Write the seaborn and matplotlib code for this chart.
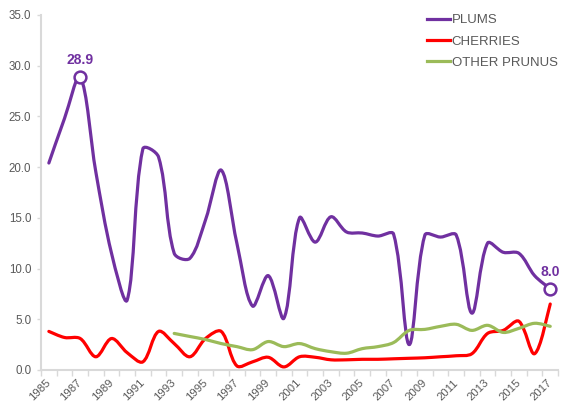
import numpy as np
import pandas as pd
import matplotlib
matplotlib.use("Agg")
import matplotlib.pyplot as plt
import seaborn as sns
from matplotlib.path import Path
from matplotlib.patches import PathPatch
from matplotlib.lines import Line2D

years = list(range(1985, 2018))

plums = [20.4, 24.8, 28.9, 19.5, 11.5, 6.9, 21.8, 21.0, 11.5, 11.0,
         14.8, 19.7, 12.5, 6.3, 9.3, 5.1, 15.0, 12.6, 15.1, 13.6,
         13.5, 13.2, 13.4, 2.5, 13.3, 13.1, 13.3, 5.6, 12.5, 11.6,
         11.5, 9.3, 8.0]

cherries = [3.8, 3.2, 3.1, 1.3, 3.1, 1.7, 0.8, 3.8, 2.6, 1.3,
            3.1, 3.8, 0.4, 0.8, 1.25, 0.3, 1.3, 1.25, 1.0, 1.0,
            1.05, 1.05, 1.1, 1.15, 1.2, 1.3, 1.4, 1.6, 3.6, 3.9,
            4.8, 1.6, 6.5]

other_prunus = [np.nan] * 8 + [3.6, 3.3, 3.0, 2.6, 2.3, 2.0, 2.8, 2.3,
                               2.6, 2.1, 1.8, 1.65, 2.1, 2.3, 2.7, 3.9,
                               4.0, 4.3, 4.5, 3.9, 4.4, 3.7, 4.1, 4.6, 4.3]

series_names = ["PLUMS", "CHERRIES", "OTHER PRUNUS"]
series_values = [plums, cherries, other_prunus]
colors = {"PLUMS": "#7030A0", "CHERRIES": "#FF0000", "OTHER PRUNUS": "#9BBB59"}

y_ticks = [0, 5, 10, 15, 20, 25, 30, 35]
x_labels = [y for y in years if y % 2 == 1]

TEXT = "#595959"
AXIS = "#D9D9D9"
plt.rcParams["font.family"] = ["Liberation Sans", "DejaVu Sans"]

df = pd.concat(
    [pd.DataFrame({"year": years, "value": v, "series": n})
     for n, v in zip(series_names, series_values)],
    ignore_index=True,
)

fig = plt.figure(figsize=(5.62, 4.03), dpi=100)
ax = fig.add_axes([0.073, 0.082, 0.920, 0.881])

sns.lineplot(data=df, x="year", y="value", hue="series", hue_order=series_names,
             palette=colors, legend=False, ax=ax, lw=2.3)

ax.set_xlim(years[0] - 0.5, years[-1] + 0.5)
ax.set_ylim(0, 35)


def smooth_path(xy, trans):
    """Bezier path through the points; handle lengths follow the on-screen
    lengths of the neighbouring segments, which keeps overshoot small."""
    pts = xy[~np.isnan(xy).any(axis=1)]
    d = trans.transform(pts)
    n = len(d)
    seg = np.hypot(*np.diff(d, axis=0).T)
    tang = np.empty_like(d)
    tang[1:-1] = d[2:] - d[:-2]
    tang[0] = d[1] - d[0]
    tang[-1] = d[-1] - d[-2]
    verts = [d[0]]
    codes = [Path.MOVETO]
    for i in range(n - 1):
        if i == 0:
            r1 = 0.5
        else:
            r1 = seg[i] / (seg[i - 1] + seg[i])
        if i + 1 == n - 1:
            r2 = 0.5
        else:
            r2 = seg[i] / (seg[i] + seg[i + 1])
        c1 = d[i] + tang[i] * r1 / 3.0
        c2 = d[i + 1] - tang[i + 1] * r2 / 3.0
        verts += [c1, c2, d[i + 1]]
        codes += [Path.CURVE4] * 3
    verts = trans.inverted().transform(np.array(verts))
    return Path(verts, codes)


# replace the straight polylines with smoothed curves through the same points
for z, line in enumerate(list(ax.lines)):
    col = line.get_color()
    patch = PathPatch(smooth_path(line.get_xydata(), ax.transData),
                      facecolor="none", edgecolor=col, lw=2.3,
                      capstyle="round", joinstyle="round", zorder=2 + z * 0.1)
    ax.add_patch(patch)
    line.set_visible(False)

# highlighted points on the plums series
for idx in (2, len(years) - 1):
    ax.plot(years[idx], plums[idx], marker="o", ms=8.5, mfc="white",
            mec=colors["PLUMS"], mew=1.8, zorder=5)
    ax.annotate(f"{plums[idx]:.1f}", (years[idx], plums[idx]),
                xytext=(0, 7), textcoords="offset points", ha="center",
                va="bottom", color=colors["PLUMS"], fontsize=10,
                fontweight="bold")

ax.set_yticks(y_ticks)
ax.set_yticklabels([f"{t:.1f}" for t in y_ticks])
ax.set_xticks(x_labels)
ax.set_xticklabels([str(y) for y in x_labels], rotation=45, ha="right",
                   va="center", rotation_mode="anchor")
ax.set_xticks(np.arange(years[0] - 0.5, years[-1] + 1.0, 1.0), minor=True)
ax.tick_params(axis="x", which="major", length=0, pad=8, labelsize=8.2,
               labelcolor=TEXT)
ax.tick_params(axis="x", which="minor", length=4, width=1, color=AXIS,
               direction="out")
ax.tick_params(axis="y", length=3, width=1, color=AXIS, labelsize=8.3,
               labelcolor=TEXT, pad=4)
ax.set_xlabel("")
ax.set_ylabel("")
ax.grid(False)
for s in ("top", "right"):
    ax.spines[s].set_visible(False)
for s in ("left", "bottom"):
    ax.spines[s].set_color(AXIS)
    ax.spines[s].set_linewidth(1.5)

handles = [Line2D([0], [0], color=colors[n], lw=2.3) for n in series_names]
fig.legend(handles, series_names, loc="upper left",
           bbox_to_anchor=(0.750, 0.978), frameon=False, fontsize=9.5,
           labelcolor=TEXT, handlelength=1.75, handletextpad=0.15,
           labelspacing=0.68, borderaxespad=0)

fig.savefig("out.png", dpi=100, facecolor="white")
